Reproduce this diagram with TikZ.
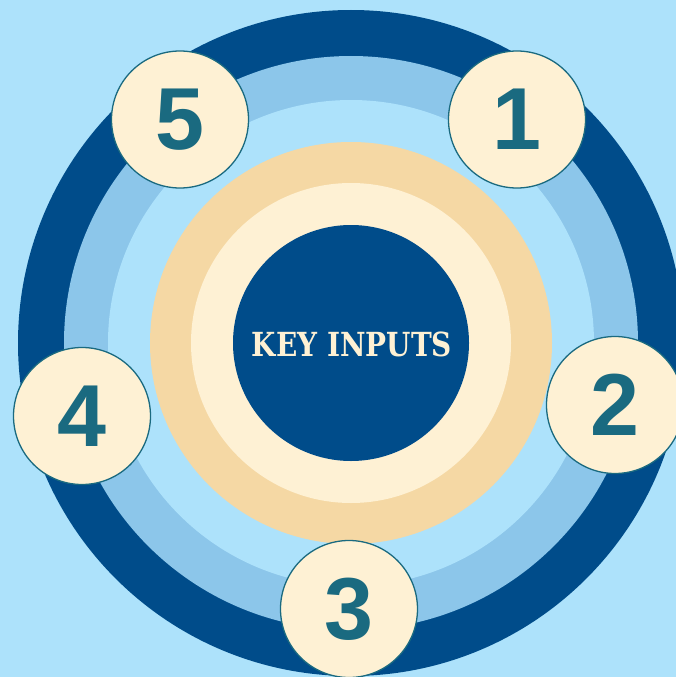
\documentclass[tikz,border=0pt]{standalone}
\usepackage{fontspec}
\setmainfont{Liberation Sans}
\newfontfamily\slabfont{DejaVu Serif}
\definecolor{bgblue}{HTML}{ADE2FB}
\definecolor{darkblue}{HTML}{004C8A}
\definecolor{midblue}{HTML}{8CC6EA}
\definecolor{tan}{HTML}{F5D8A4}
\definecolor{cream}{HTML}{FEF1D4}
\definecolor{teal}{HTML}{1A6A80}
\tikzset{
  numcircle/.style={circle, fill=cream, draw=teal, line width=1.3pt, minimum size=137pt, inner sep=0pt,
    text=teal, font=\fontsize{88}{88}\selectfont\bfseries},
}
\begin{document}
\begin{tikzpicture}[x=1pt,y=-1pt]
\useasboundingbox (0,0) rectangle (676,677);
\fill[bgblue] (0,0) rectangle (676,677);
\coordinate (c) at (351,343);
\fill[darkblue] (c) circle[radius=333];
\fill[midblue] (c) circle[radius=287];
\fill[bgblue] (c) circle[radius=243];
\fill[tan] (c) circle[radius=201];
\fill[cream] (c) circle[radius=160];
\node[circle, fill=darkblue, minimum size=236pt, inner sep=0pt] (center) at (c) {};
\node[text=cream, inner sep=0pt] (label) at (352,344)
  {\resizebox{200pt}{24.6pt}{\slabfont\bfseries KEY INPUTS}};
\node[numcircle] (n1) at (517,119.5) {1};
\node[numcircle] (n2) at (615,405) {2};
\node[numcircle] (n3) at (349,609) {3};
\node[numcircle] (n4) at (82,416) {4};
\node[numcircle] (n5) at (180,119.5) {5};
\end{tikzpicture}
\end{document}
